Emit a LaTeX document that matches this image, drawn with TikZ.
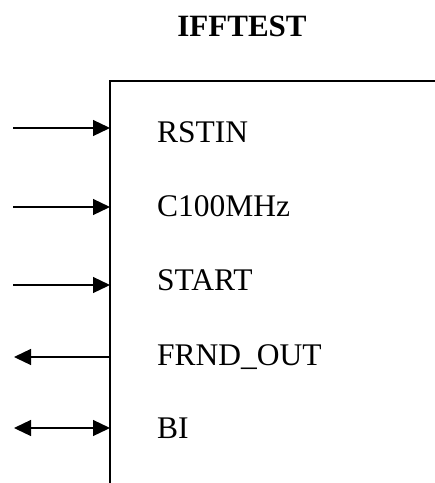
\documentclass[tikz,border=0pt]{standalone}
\usepackage{fontspec}
\setmainfont{Liberation Serif}
\usetikzlibrary{arrows.meta}

\begin{document}
\begin{tikzpicture}[x=1pt,y=-1pt,>={Triangle[length=17pt,width=16pt]},
  pin line/.style={line width=1.3pt},
  box line/.style={line width=2pt,line join=miter},
  pin label/.style={anchor=base west,inner sep=0pt,font=\fontsize{31.5}{36}\selectfont},
  title node/.style={anchor=base,inner sep=0pt,font=\fontsize{31}{36}\selectfont\bfseries}]
  \useasboundingbox (0,0) rectangle (435,483);
  \node[title node] (title) at (242,36.7) {IFFTEST};

  % block outline
  \coordinate (ne) at (435,81);
  \coordinate (nw) at (110,81);
  \coordinate (sw) at (110,483);
  \draw[box line] (ne) -- (nw) -- (sw);

  % pin names
  \node[pin label] (rstin)    at (157,142.7) {RSTIN};
  \node[pin label] (clk)      at (157,216.7) {C100MHz};
  \node[pin label] (start)    at (157,290)   {START};
  \node[pin label] (frndout)  at (157,365)   {FRND\_OUT};
  \node[pin label] (bi)       at (157,438)   {BI};

  % pin ends
  \coordinate (rstin in)   at (110,128);  \coordinate (rstin ext)   at (13,128);
  \coordinate (clk in)     at (110,207);  \coordinate (clk ext)     at (13,207);
  \coordinate (start in)   at (110,285);  \coordinate (start ext)   at (13,285);
  \coordinate (frndout in) at (110,357);  \coordinate (frndout ext) at (14,357);
  \coordinate (bi in)      at (110,428);  \coordinate (bi ext)      at (14,428);

  \draw[pin line,->]  (rstin ext) -- (rstin in);
  \draw[pin line,->]  (clk ext) -- (clk in);
  \draw[pin line,->]  (start ext) -- (start in);
  \draw[pin line,->]  (frndout in) -- (frndout ext);
  \draw[pin line,<->] (bi ext) -- (bi in);
\end{tikzpicture}
\end{document}
